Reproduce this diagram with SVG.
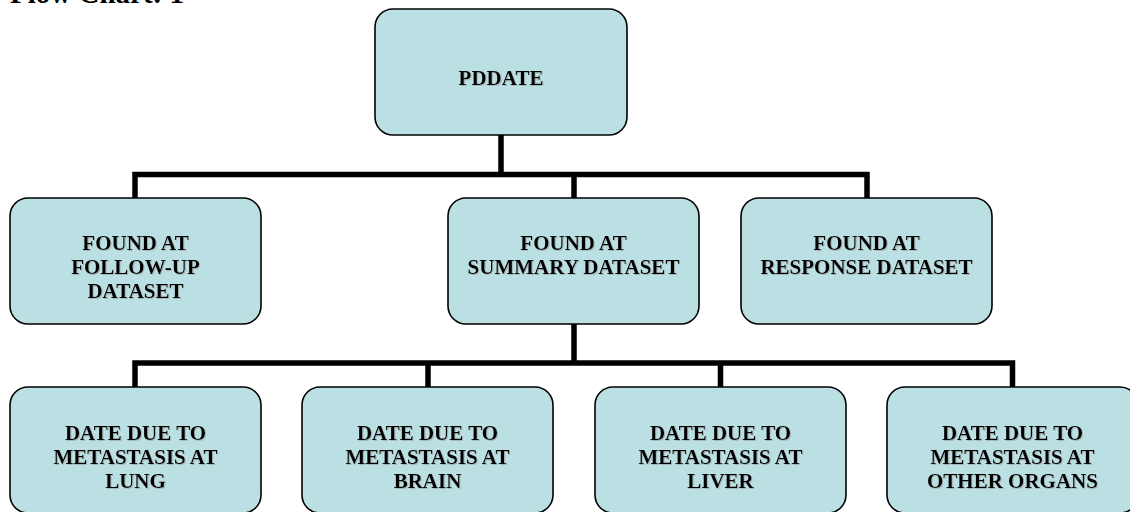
<svg xmlns="http://www.w3.org/2000/svg" width="1130" height="512" viewBox="0 0 1130 512">
<defs>
<filter id="sh" x="-5%" y="-5%" width="110%" height="120%">
<feDropShadow dx="1" dy="1" stdDeviation="0.3" flood-color="#999999" flood-opacity="0.6"/>
</filter>
</defs>
<style>
.box{fill:#BAE0E3;stroke:#000;stroke-width:1.6}
.lbl{font-family:"Liberation Serif","Times New Roman",serif;font-weight:bold;font-size:21px;fill:#000;text-anchor:middle;filter:url(#sh)}
.title{font-family:"Liberation Serif","Times New Roman",serif;font-weight:bold;font-size:29px;fill:#000}
.con{fill:none;stroke:#000;stroke-width:5.5;stroke-linejoin:miter;stroke-linecap:butt}
</style>
<rect width="1130" height="512" fill="#fff"/>
<text class="title" x="10" y="3">Flow Chart: 1</text>
<g id="connectors">
<path class="con" d="M501,135 V174.5"/>
<path class="con" d="M135,198 V174.5 H867 V198"/>
<path class="con" d="M574,174.5 V198"/>
<path class="con" d="M574,324 V363"/>
<path class="con" d="M135,387 V363 H1012.5 V387"/>
<path class="con" d="M428,363 V387"/>
<path class="con" d="M720.5,363 V387"/>
</g>
<g id="pddate">
<rect class="box" x="375" y="9" width="252" height="126" rx="18"/>
<text class="lbl" x="501" y="85">PDDATE</text>
</g>
<g id="followup">
<rect class="box" x="10" y="198" width="251" height="126" rx="18"/>
<text class="lbl" x="135.5" y="250">FOUND AT</text>
<text class="lbl" x="135.5" y="274">FOLLOW-UP</text>
<text class="lbl" x="135.5" y="298">DATASET</text>
</g>
<g id="summary">
<rect class="box" x="448" y="198" width="251" height="126" rx="18"/>
<text class="lbl" x="573.5" y="250">FOUND AT</text>
<text class="lbl" x="573.5" y="274">SUMMARY DATASET</text>
</g>
<g id="response">
<rect class="box" x="741" y="198" width="251" height="126" rx="18"/>
<text class="lbl" x="866.5" y="249.5">FOUND AT</text>
<text class="lbl" x="866.5" y="273.5">RESPONSE DATASET</text>
</g>
<g id="lung">
<rect class="box" x="10" y="387" width="251" height="126" rx="18"/>
<text class="lbl" x="135.5" y="439.5">DATE DUE TO</text>
<text class="lbl" x="135.5" y="463.5">METASTASIS AT</text>
<text class="lbl" x="135.5" y="487.5">LUNG</text>
</g>
<g id="brain">
<rect class="box" x="302" y="387" width="251" height="126" rx="18"/>
<text class="lbl" x="427.5" y="439.5">DATE DUE TO</text>
<text class="lbl" x="427.5" y="463.5">METASTASIS AT</text>
<text class="lbl" x="427.5" y="487.5">BRAIN</text>
</g>
<g id="liver">
<rect class="box" x="595" y="387" width="251" height="126" rx="18"/>
<text class="lbl" x="720.5" y="439.5">DATE DUE TO</text>
<text class="lbl" x="720.5" y="463.5">METASTASIS AT</text>
<text class="lbl" x="720.5" y="487.5">LIVER</text>
</g>
<g id="other">
<rect class="box" x="887" y="387" width="251" height="126" rx="18"/>
<text class="lbl" x="1012.5" y="439.5">DATE DUE TO</text>
<text class="lbl" x="1012.5" y="463.5">METASTASIS AT</text>
<text class="lbl" x="1012.5" y="487.5">OTHER ORGANS</text>
</g>
</svg>
